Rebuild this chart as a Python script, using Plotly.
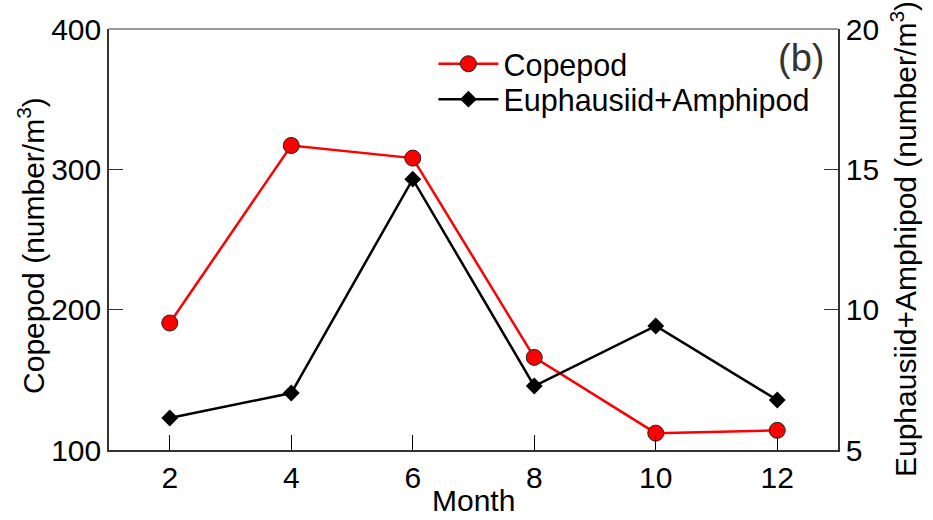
import plotly.graph_objects as go

months = [2, 4, 6, 8, 10, 12]
copepod = [190.5, 317, 308, 166, 112, 114]
euph_amph = [6.14, 7.03, 14.65, 7.28, 9.42, 6.78]

x_ticks = [2, 4, 6, 8, 10, 12]
y1_ticks = [100, 200, 300, 400]
y2_ticks = [5, 10, 15, 20]

FONT = "Liberation Sans, Arial, sans-serif"
FS = 30

fig = go.Figure()
fig.add_trace(go.Scatter(
    x=months, y=copepod, name="Copepod", mode="lines+markers",
    line=dict(color="#ff0000", width=2.5),
    marker=dict(symbol="circle", size=16, color="#ff0000", line=dict(color="#222222", width=1)),
    yaxis="y", legend="legend"))
fig.add_trace(go.Scatter(
    x=months, y=euph_amph, name="Euphausiid+Amphipod", mode="lines+markers",
    line=dict(color="black", width=2.5),
    marker=dict(symbol="diamond", size=13, color="black"),
    yaxis="y2", legend="legend2"))

leg_common = dict(xanchor="left", yanchor="middle", bgcolor="rgba(0,0,0,0)",
                  font=dict(size=30.5), itemwidth=60)

fig.update_layout(
    width=933, height=520,
    margin=dict(l=109, r=95, t=29, b=70),
    paper_bgcolor="white", plot_bgcolor="white",
    font=dict(family=FONT, size=FS, color="black"),
    showlegend=True,
    legend=dict(x=0.445, y=0.917, **leg_common),
    legend2=dict(x=0.445, y=0.833, **leg_common),
    xaxis=dict(range=[1, 13], tickvals=x_ticks, ticks="inside", ticklen=15,
               tickcolor="black", showline=True, linecolor="#333333", linewidth=1.5,
               showgrid=False, zeroline=False, automargin=False,
               tickfont=dict(size=FS)),
    yaxis=dict(range=[100, 400], tickvals=y1_ticks, ticks="inside", ticklen=14,
               tickcolor="#333333", showline=True, linecolor="#333333", linewidth=1.5,
               showgrid=False, zeroline=False, automargin=False,
               tickfont=dict(size=FS)),
    yaxis2=dict(range=[5, 20], tickvals=y2_ticks, ticks="inside", ticklen=14,
                tickcolor="#333333", overlaying="y", side="right",
                showline=True, linecolor="#333333", linewidth=1.5,
                showgrid=False, zeroline=False, automargin=False,
                tickfont=dict(size=FS)),
    shapes=[dict(type="line", xref="paper", yref="paper", x0=0, x1=1, y0=1, y1=1,
                 line=dict(color="#777777", width=1.5))],
    annotations=[
        dict(text="(b)", xref="paper", yref="paper", x=0.9835, y=0.932,
             xanchor="right", yanchor="middle", showarrow=False,
             font=dict(size=38, color="#333333")),
        dict(text="Month", xref="paper", yref="paper", x=0.5, y=-0.121,
             xanchor="center", yanchor="middle", showarrow=False,
             font=dict(size=FS)),
        dict(text="Copepod (number/m<sup>3</sup>)", xref="paper", yref="paper",
             x=-0.107, y=0.487, textangle=-90, xanchor="center", yanchor="middle",
             showarrow=False, font=dict(size=FS)),
        dict(text="Euphausiid+Amphipod (number/m<sup>3</sup>)", xref="paper", yref="paper",
             x=1.0905, y=0.501, textangle=-90, xanchor="center", yanchor="middle",
             showarrow=False, font=dict(size=FS)),
    ],
)

fig.write_html("out.html")
